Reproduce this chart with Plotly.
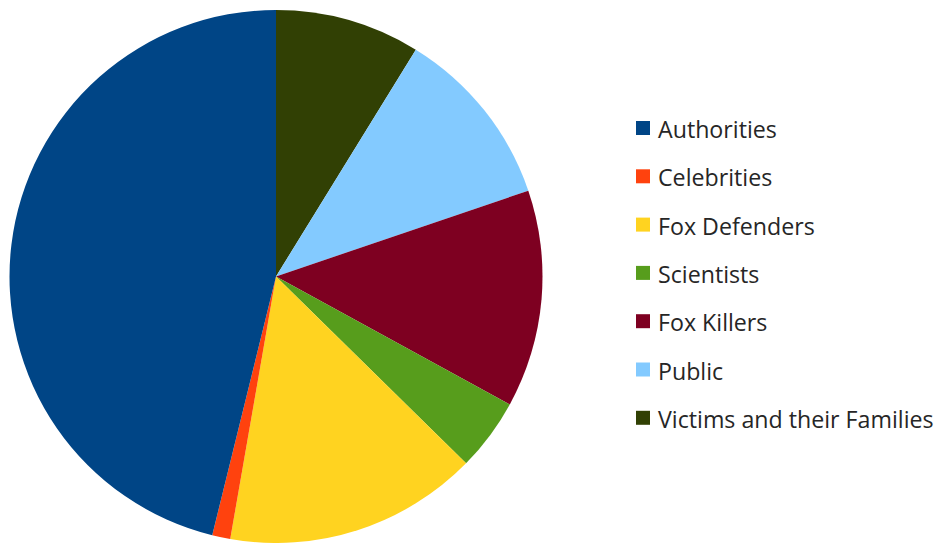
import plotly.graph_objects as go

# Categories and counts
labels = ["Authorities", "Celebrities", "Fox Defenders", "Scientists",
          "Fox Killers", "Public", "Victims and their Families"]
counts = [42, 1, 14, 4, 12, 10, 8]
colors = ["#004586", "#ff420e", "#ffd320", "#579d1c",
          "#7e0021", "#83caff", "#314004"]

W, H = 943, 543

# Slices run counterclockwise from 12 o'clock in list order; plotly's
# clockwise layout with the order reversed gives that arrangement.
fig = go.Figure(go.Pie(
    labels=labels[::-1],
    values=counts[::-1],
    marker=dict(colors=colors[::-1], line=dict(width=0)),
    sort=False,
    direction="clockwise",
    rotation=0,
    textinfo="none",
    hoverinfo="label+value+percent",
    showlegend=False,
    domain=dict(x=[9.5 / W, 542.5 / W], y=[0, 533 / H]),
))

# Legend drawn as swatches + labels with fixed row spacing
row0, step = 128, 48.3
sw_x0, sw_size, txt_x = 636, 14, 656
shapes, annotations = [], []
for i, (lab, col) in enumerate(zip(labels, colors)):
    yc = row0 + i * step
    shapes.append(dict(
        type="rect", xref="paper", yref="paper",
        x0=sw_x0 / W, x1=(sw_x0 + sw_size) / W,
        y0=1 - (yc + sw_size / 2) / H, y1=1 - (yc - sw_size / 2) / H,
        fillcolor=col, line=dict(width=0),
    ))
    annotations.append(dict(
        text=lab, xref="paper", yref="paper",
        x=txt_x / W, y=1 - (yc + 1) / H, xanchor="left", yanchor="middle",
        showarrow=False, font=dict(family="Open Sans", size=23.2, color="#262626"),
    ))

fig.update_layout(
    width=W, height=H,
    margin=dict(l=0, r=0, t=0, b=0),
    paper_bgcolor="white", plot_bgcolor="white",
    shapes=shapes, annotations=annotations,
)

fig.write_html("out.html")
